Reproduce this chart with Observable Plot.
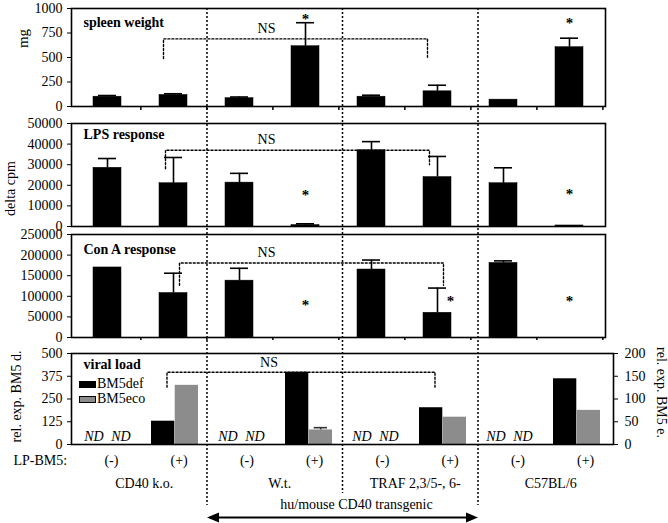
<!DOCTYPE html>
<html><head><meta charset="utf-8">
<script src="https://cdn.jsdelivr.net/npm/d3@7"></script>
<script src="https://cdn.jsdelivr.net/npm/@observablehq/plot@0.6"></script>
<style>
body{margin:0;background:#fff;}
#fig{position:relative;width:668px;height:523px;font-family:"Liberation Serif","Times New Roman",serif;color:#000;}
#fig > svg{position:absolute;left:0;top:0;}
#legend{position:absolute;left:79px;top:376px;font-size:14px;line-height:15px;}
#legend .sw{display:inline-block;width:17px;height:7px;vertical-align:middle;margin-right:1px;border:1px solid #000;box-sizing:border-box;}
</style></head><body><div id="fig"><div id="legend"></div></div>
<script>
// ---------- data ----------
const categories = ["CD40 k.o. -","CD40 k.o. +","W.t. -","W.t. +","TRAF -","TRAF +","C57BL/6 -","C57BL/6 +"];
const lpLabels = ["(-)","(+)","(-)","(+)","(-)","(+)","(-)","(+)"];
const groups = ["CD40 k.o.","W.t.","TRAF 2,3/5-, 6-","C57BL/6"];

const spleen    = [100, 118, 85, 615, 100, 155, 70, 605];
const spleenErr = [12, 12, 12, 240, 15, 62, 0, 92];
const spleenStar = [null, null, null, 930, null, null, null, 890];

const lps    = [28500, 21000, 21300, 700, 37000, 24000, 21000, 500];
const lpsErr = [4500, 12500, 4500, 600, 4200, 10000, 7500, 0];
const lpsStar = [null, null, null, 17300, null, null, null, 17800];

const conA    = [170000, 108000, 138000, 0, 165000, 60000, 181000, 0];
const conAErr = [0, 48000, 30000, 0, 23000, 60000, 5000, 0];
const conAStar = [null, null, null, 88000, null, 98000, null, 98000];

const bm5def    = [null, 128, null, 397, null, 202, null, 361]; // left axis (rel. exp. BM5 d.)
const bm5eco    = [null, 130, null, 32, null, 60, null, 75];    // right axis (rel. exp. BM5 e.)
const bm5ecoErr = [0, 0, 0, 5, 0, 0, 0, 0];

const ticksSpleen = [0, 250, 500, 750, 1000];
const ticksLps = [0, 10000, 20000, 30000, 40000, 50000];
const ticksConA = [0, 50000, 100000, 150000, 200000, 250000];
const ticksDef = [0, 125, 250, 375, 500];
const ticksEco = [0, 50, 100, 150, 200];

// NS brackets: [top level, left foot, right foot]
const nsSpleen = [690, 490, 490];
const nsLps = [37000, 28000, 30000];
const nsConA = [181000, 127000, 127000];
const nsViral = [397, 315, 315];

// ---------- layout ----------
const W = 668, H = 523;
const FONT = "'Liberation Serif','Times New Roman',serif";
const baseStyle = {background: "transparent", fontFamily: FONT, fontSize: "14px", color: "black", overflow: "visible"};
const fig = document.getElementById("fig");

function table(vals, errs, stars) {
  return categories.map((c, i) => ({cat: c, v: vals[i], e: errs[i], s: stars[i]}));
}
function bracket(ns) {
  return [
    {x: categories[1], y: ns[1]}, {x: categories[1], y: ns[0]},
    {x: categories[5], y: ns[0]}, {x: categories[5], y: ns[2]}
  ];
}

function barPanel(o) {
  const right = 605, inner = 0.58;
  const step = (right - 71) / 8;
  const data = table(o.vals, o.errs, o.stars);
  const errs = data.filter(d => d.e > 0);
  const stars = data.filter(d => d.s != null);
  const marks = [
    Plot.barY(data, {x: "cat", y: "v", fill: "black", stroke: "black", strokeWidth: 0.5}),
    Plot.ruleX(errs, {x: "cat", y1: "v", y2: d => d.v + d.e, stroke: "black", strokeWidth: 1.6}),
    Plot.tickY(errs, {x: "cat", y: d => d.v + d.e, stroke: "black", strokeWidth: 1.6, insetLeft: 5, insetRight: 5}),
    Plot.text(stars.filter(d => !(d.v > 0 && d.s < d.v + d.e)), {x: "cat", y: "s", text: () => "*", fontSize: 15, fontWeight: "bold", dy: 4, fontFamily: FONT}),
    Plot.text(stars.filter(d => d.v > 0 && d.s < d.v + d.e), {x: "cat", y: "s", text: () => "*", fontSize: 15, fontWeight: "bold", dy: 4, dx: 13, fontFamily: FONT}),
    Plot.line(bracket(o.ns), {x: "x", y: "y", dx: o.brDx, stroke: "black", strokeWidth: 1.4, strokeDasharray: "2,2"}),
    Plot.text(["NS"], {x: () => categories[2], frameAnchor: "top", lineAnchor: "middle", dx: 27, dy: o.nsDy, fontSize: 14, fontFamily: FONT}),
    Plot.text([o.title], {frameAnchor: "top-left", lineAnchor: "middle", dx: 12, dy: o.titleDy, textAnchor: "start", fontWeight: "bold", fontSize: 14, fontFamily: FONT}),
    Plot.axisY({ticks: o.ticks, tickSize: 4, tickPadding: 5, fontSize: 14, label: null, tickFormat: d => String(d), fontFamily: FONT}),
    Plot.frame({stroke: "black", strokeWidth: 1.6})
  ];
  if (o.xTicks) marks.push(Plot.axisX({tickSize: o.xTicks, tickFormat: () => "", dx: step / 2, label: null, strokeWidth: 1.5}));
  return Plot.plot({
    width: W, height: H, marginTop: o.top, marginBottom: H - o.bottom, marginLeft: 71, marginRight: W - right,
    x: {domain: categories, paddingInner: inner, paddingOuter: inner / 2, ...(o.xTicks ? {} : {axis: null})},
    y: {domain: [o.ticks[0], o.ticks[o.ticks.length - 1]]},
    style: baseStyle,
    marks
  });
}

fig.appendChild(barPanel({top: 8, bottom: 106, vals: spleen, errs: spleenErr, stars: spleenStar, ticks: ticksSpleen, ns: nsSpleen, brDx: -10, title: "spleen weight", titleDy: 14, nsDy: 20, xTicks: 4}));
fig.appendChild(barPanel({top: 123, bottom: 226, vals: lps, errs: lpsErr, stars: lpsStar, ticks: ticksLps, ns: nsLps, brDx: -8, title: "LPS response", titleDy: 11, nsDy: 16}));
fig.appendChild(barPanel({top: 234, bottom: 337, vals: conA, errs: conAErr, stars: conAStar, ticks: ticksConA, ns: nsConA, brDx: 6, title: "Con A response", titleDy: 15, nsDy: 18, xTicks: 3}));

// ---------- viral load panel ----------
{
  const right = 613, inner = 0.3;
  const step = (right - 71) / 8;
  const bw = step * (1 - inner);
  const ratio = ticksDef[ticksDef.length - 1] / ticksEco[ticksEco.length - 1];
  const all = categories.map((c, i) => ({cat: c, def: bm5def[i], eco: bm5eco[i], ee: bm5ecoErr[i]}));
  const vl = all.filter(d => d.def != null);
  const nd = all.filter(d => d.def == null);
  const ecoErr = vl.filter(d => d.ee > 0);
  const svg = Plot.plot({
    width: W, height: H, marginTop: 353, marginBottom: H - 444, marginLeft: 71, marginRight: W - right,
    x: {domain: categories, paddingInner: inner, paddingOuter: inner / 2, axis: null},
    y: {domain: [0, 500]},
    style: baseStyle,
    marks: [
      Plot.barY(vl, {x: "cat", y: "def", fill: "black", insetRight: bw / 2}),
      Plot.barY(vl, {x: "cat", y: d => d.eco * ratio, fill: "#8c8c8c", insetLeft: bw / 2}),
      Plot.ruleX(ecoErr, {x: "cat", y1: d => d.eco * ratio, y2: d => (d.eco + d.ee) * ratio, dx: bw / 4, stroke: "#333", strokeWidth: 1.4}),
      Plot.tickY(ecoErr, {x: "cat", y: d => (d.eco + d.ee) * ratio, insetLeft: bw / 2 + 5, insetRight: 5, stroke: "#333", strokeWidth: 1.6}),
      Plot.text(nd, {x: "cat", text: () => "ND", frameAnchor: "bottom", lineAnchor: "middle", dy: -8, dx: -14, fontStyle: "italic", fontSize: 14, ariaLabel: "nd", fontFamily: FONT}),
      Plot.text(nd, {x: "cat", text: () => "ND", frameAnchor: "bottom", lineAnchor: "middle", dy: -8, dx: 13, fontStyle: "italic", fontSize: 14, ariaLabel: "nd", fontFamily: FONT}),
      Plot.line(bracket(nsViral), {x: "x", y: "y", dx: -8, stroke: "black", strokeWidth: 1.4, strokeDasharray: "2,2"}),
      Plot.text(["NS"], {x: () => categories[2], frameAnchor: "top", lineAnchor: "middle", dx: 27, dy: 9, fontSize: 14, fontFamily: FONT}),
      Plot.text(["viral load"], {frameAnchor: "top-left", lineAnchor: "middle", dx: 12, dy: 11, textAnchor: "start", fontWeight: "bold", fontSize: 14, fontFamily: FONT}),
      Plot.axisY({ticks: ticksDef, tickSize: 4, tickPadding: 5, fontSize: 14, label: null, fontFamily: FONT}),
      Plot.axisY({anchor: "right", ticks: ticksEco.map(v => v * ratio), tickFormat: d => String(d / ratio), tickSize: 4, tickPadding: 7, fontSize: 14, label: null, fontFamily: FONT}),
      Plot.frame({stroke: "black", strokeWidth: 1.6})
    ]
  });
  svg.querySelectorAll('g[aria-label="nd"] text').forEach(t => t.setAttribute("text-decoration", "underline"));
  fig.appendChild(svg);
}

// ---------- legend ----------
document.getElementById("legend").innerHTML =
  '<div><span class="sw" style="background:#000"></span>BM5def</div>' +
  '<div><span class="sw" style="background:#8c8c8c"></span>BM5eco</div>';

// ---------- overlay: dividers, group labels, axis titles ----------
{
  const L = {divTop: 8, divBottom: 505, divMidBottom: 493, lp: 460, group: 483, span: 504, arrow: 517};
  const dash = {stroke: "black", strokeWidth: 1.5, strokeDasharray: "2,2"};
  const triLeft = {draw(ctx) { ctx.moveTo(0, 0); ctx.lineTo(12, -5); ctx.lineTo(12, 5); ctx.closePath(); }};
  const triRight = {draw(ctx) { ctx.moveTo(0, 0); ctx.lineTo(-12, -5); ctx.lineTo(-12, 5); ctx.closePath(); }};
  const T = {fontSize: 14, fontFamily: FONT};
  const overlay = Plot.plot({
    width: W, height: H, margin: 0,
    x: {domain: [0, 8], range: [71, 613], axis: null},
    y: {domain: [0, H], range: [0, H], axis: null},
    style: baseStyle,
    marks: [
      Plot.ruleX([2, 6], {x: d => d, y1: () => L.divTop, y2: () => L.divBottom, ...dash}),
      Plot.ruleX([4], {x: d => d, y1: () => L.divTop, y2: () => L.divMidBottom, ...dash}),
      Plot.text(lpLabels, {x: (d, i) => i + 0.5, y: () => L.lp, text: d => d, dx: 6, ...T}),
      Plot.text(["LP-BM5:"], {x: () => 0, y: () => L.lp, text: d => d, dx: -58, textAnchor: "start", ...T}),
      Plot.text(groups, {x: (d, i) => 2 * i + 1, y: () => L.group, text: d => d, dx: 5, ...T}),
      Plot.text(["hu/mouse CD40 transgenic"], {x: () => 4, y: () => L.span, text: d => d, dx: 14, ...T}),
      Plot.ruleY([L.arrow], {y: d => d, x1: () => 2.05, x2: () => 5.95, stroke: "black", strokeWidth: 2}),
      Plot.dot([2], {x: d => d, y: () => L.arrow, symbol: triLeft, fill: "black", stroke: "none", r: 4}),
      Plot.dot([6], {x: d => d, y: () => L.arrow, symbol: triRight, fill: "black", stroke: "none", r: 4}),
      Plot.text(["mg"], {x: () => 0, y: () => 38, text: d => d, dx: -48, rotate: -90, fontSize: 15, fontFamily: FONT}),
      Plot.text(["delta cpm"], {x: () => 0, y: () => 188, text: d => d, dx: -61, rotate: -90, ...T}),
      Plot.text(["rel. exp. BM5 d."], {x: () => 0, y: () => 396, text: d => d, dx: -55, rotate: -90, ...T}),
      Plot.text(["rel. exp. BM5 e."], {x: () => 8, y: () => 392, text: d => d, dx: 48, rotate: 90, ...T})
    ]
  });
  fig.appendChild(overlay);
}
</script></body></html>
